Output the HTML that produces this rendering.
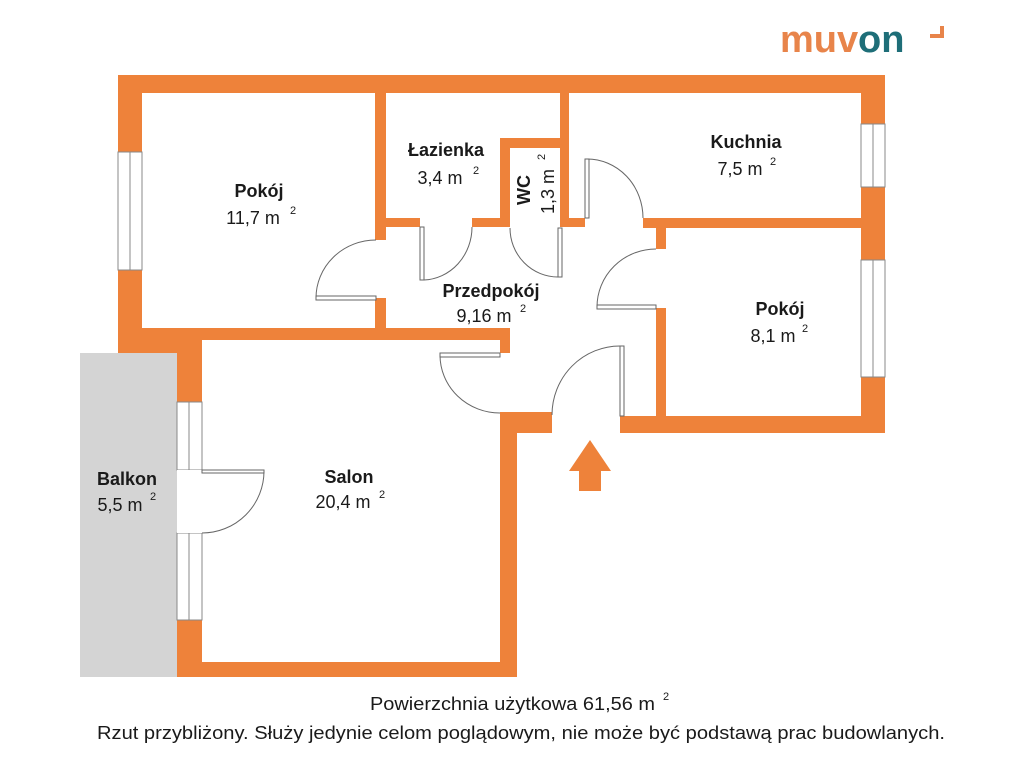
<!DOCTYPE html>
<html><head><meta charset="utf-8"><style>
html,body{margin:0;padding:0;background:#fff;width:1023px;height:768px;overflow:hidden}
svg{display:block}
text{font-family:"Liberation Sans",sans-serif;fill:#1a1a1a}
.b{font-weight:bold;font-size:18px}
.n{font-size:18px}
.s{font-size:11px}
</style></head><body>
<svg width="1023" height="768" viewBox="0 0 1023 768" xmlns="http://www.w3.org/2000/svg">
<!-- logo -->
<text x="780" y="52" style="font-size:38px;font-weight:bold;fill:#e8844a">muv</text>
<text x="858" y="52" style="font-size:38px;font-weight:bold;fill:#1e6e78">on</text>
<path d="M942 26 L942 36 L930 36" stroke="#e8844a" stroke-width="4" fill="none"/>
<!-- balcony -->
<rect x="80" y="353" width="97" height="324" fill="#d4d4d4"/>
<g fill="#ee823a">
<rect x="118" y="75" width="767" height="18"/>
<rect x="118" y="75" width="24" height="265"/>
<rect x="118" y="328" width="392" height="12"/>
<rect x="118" y="328" width="84" height="25"/>
<rect x="177" y="340" width="25" height="62"/>
<rect x="177" y="620" width="25" height="57"/>
<rect x="177" y="662" width="340" height="15"/>
<rect x="500" y="328" width="10" height="25"/>
<rect x="500" y="412" width="17" height="265"/>
<rect x="500" y="412" width="52" height="21"/>
<rect x="620" y="416" width="265" height="17"/>
<rect x="861" y="75" width="24" height="358"/>
<rect x="375" y="93" width="11" height="147"/>
<rect x="375" y="298" width="11" height="30"/>
<rect x="386" y="218" width="34" height="9"/>
<rect x="472" y="218" width="38" height="9"/>
<rect x="500" y="138" width="10" height="89"/>
<rect x="500" y="138" width="60" height="10"/>
<rect x="560" y="93" width="9" height="134"/>
<rect x="560" y="218" width="25" height="9"/>
<rect x="643" y="218" width="218" height="10"/>
<rect x="656" y="218" width="10" height="31"/>
<rect x="656" y="308" width="10" height="125"/>
</g>
<g fill="#fff" stroke="#888" stroke-width="1">
<rect x="118" y="152" width="24" height="118"/><line x1="130" y1="152" x2="130" y2="270"/>
<rect x="861" y="124" width="24" height="63"/><line x1="873" y1="124" x2="873" y2="187"/>
<rect x="861" y="260" width="24" height="117"/><line x1="873" y1="260" x2="873" y2="377"/>
<rect x="177" y="402" width="25" height="68"/><line x1="189" y1="402" x2="189" y2="470"/>
<rect x="177" y="533" width="25" height="87"/><line x1="189" y1="533" x2="189" y2="620"/>
</g>
<rect x="177" y="470" width="25" height="63" fill="#fff"/>
<g fill="#fff" stroke="#666" stroke-width="1">
<rect x="316" y="296" width="60" height="4"/>
<rect x="420" y="227" width="4" height="53"/>
<rect x="558" y="228" width="4" height="49"/>
<rect x="585" y="159" width="4" height="59"/>
<rect x="597" y="305" width="59" height="4"/>
<rect x="440" y="353" width="60" height="4"/>
<rect x="620" y="346" width="4" height="70"/>
<rect x="202" y="470" width="62" height="3"/>
</g>
<g fill="none" stroke="#666" stroke-width="1">
<path d="M316 298 A60 58 0 0 1 376 240"/>
<path d="M424 280 A50 53 0 0 0 472 227"/>
<path d="M510 228 A48 49 0 0 0 558 277"/>
<path d="M587 159 A56 59 0 0 1 643 218"/>
<path d="M597 307 A59 58 0 0 1 656 249"/>
<path d="M440 355 A60 58 0 0 0 500 413"/>
<path d="M620 346 A68 69 0 0 0 552 415"/>
<path d="M264 471 A62 62 0 0 1 202 533"/>
</g>
<polygon points="590,440 611,471 601,471 601,491 579,491 579,471 569,471" fill="#ee823a"/>
<text class="b" x="259" y="197" text-anchor="middle">Pokój</text>
<text class="n" x="253" y="224" text-anchor="middle">11,7 m</text><text class="s" x="290" y="214">2</text>
<text class="b" x="446" y="156" text-anchor="middle">Łazienka</text>
<text class="n" x="440" y="184" text-anchor="middle">3,4 m</text><text class="s" x="473" y="174">2</text>
<text class="b" transform="translate(530,205) rotate(-90)">WC</text>
<text class="n" transform="translate(554,214) rotate(-90)">1,3 m</text>
<text class="s" transform="translate(545,160) rotate(-90)">2</text>
<text class="b" x="746" y="148" text-anchor="middle">Kuchnia</text>
<text class="n" x="740" y="175" text-anchor="middle">7,5 m</text><text class="s" x="770" y="165">2</text>
<text class="b" x="491" y="297" text-anchor="middle">Przedpokój</text>
<text class="n" x="484" y="322" text-anchor="middle">9,16 m</text><text class="s" x="520" y="312">2</text>
<text class="b" x="780" y="315" text-anchor="middle">Pokój</text>
<text class="n" x="773" y="342" text-anchor="middle">8,1 m</text><text class="s" x="802" y="332">2</text>
<text class="b" x="349" y="483" text-anchor="middle">Salon</text>
<text class="n" x="343" y="508" text-anchor="middle">20,4 m</text><text class="s" x="379" y="498">2</text>
<text class="b" x="127" y="485" text-anchor="middle">Balkon</text>
<text class="n" x="120" y="511" text-anchor="middle">5,5 m</text><text class="s" x="150" y="500">2</text>
<text class="n" x="370" y="710" textLength="285" lengthAdjust="spacingAndGlyphs">Powierzchnia użytkowa 61,56 m</text><text class="s" x="663" y="700">2</text>
<text class="n" x="521" y="739" text-anchor="middle" textLength="848" lengthAdjust="spacingAndGlyphs">Rzut przybliżony. Służy jedynie celom poglądowym, nie może być podstawą prac budowlanych.</text>
</svg>
</body></html>
